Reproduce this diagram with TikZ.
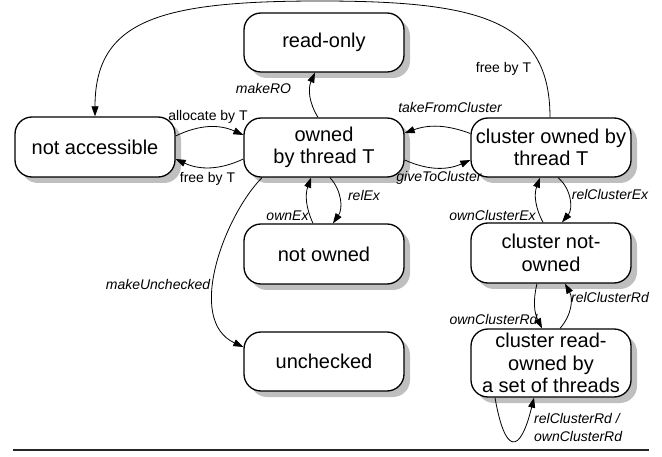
\documentclass[tikz,border=0pt]{standalone}
\usepackage{fontspec}
\setmainfont{Liberation Sans}
\usetikzlibrary{shadows,arrows.meta}
\begin{document}
\begin{tikzpicture}[x=1pt,y=-1pt,
  state/.style={draw, line width=1.3pt, rounded corners=17pt, fill=white, inner sep=0pt, align=center,
    font=\fontsize{20pt}{22.5pt}\selectfont, minimum width=160pt,
    drop shadow={shadow xshift=6pt, shadow yshift=-6pt, fill=black!25, opacity=1}},
  arr/.style={line width=0.8pt, -{Triangle[length=10pt,width=7pt]}},
  lab/.style={inner sep=0pt, font=\fontsize{14pt}{17pt}\selectfont},
  ilab/.style={inner sep=0pt, font=\fontsize{14pt}{17pt}\selectfont\itshape}]
\useasboundingbox (0,0) rectangle (662,457);

% states
\node[state, minimum height=60pt] (na) at (95,147) {not accessible};
\node[state, minimum height=59pt] (ro) at (324,42.5) {read-only};
\node[state, minimum height=59pt] (ow) at (324,147.5) {owned\\by thread T};
\node[state, minimum height=59pt] (co) at (551,147.5) {cluster owned by\\thread T};
\node[state, minimum height=60pt] (no) at (324,254) {not owned};
\node[state, minimum height=60pt] (cn) at (551,253) {cluster not-\\owned};
\node[state, minimum height=59pt] (un) at (324,361.5) {unchecked};
\node[state, minimum height=68pt] (cr) at (551,363) {cluster read-\\owned by\\a set of threads};

% transitions
\draw[arr] ([xshift=-1pt]co.north) .. controls (550,20) and (480,1) .. (320,1)
           .. controls (160,1) and (95,20) .. (na.north);
\draw[arr] ([yshift=11pt]na.east) to[bend left=25] ([yshift=12.5pt]ow.west);
\draw[arr] ([yshift=-11.5pt]ow.west) to[bend left=25] ([yshift=-12pt]na.east);
\draw[arr] ([xshift=-6pt]ow.north) to[bend left=28] ([xshift=-9pt]ro.south);
\draw[arr] ([yshift=14pt]co.west) to[bend right=20] ([yshift=14.5pt]ow.east);
\draw[arr] ([yshift=-12.5pt]ow.east) to[bend right=24] ([yshift=-12.5pt]co.west);
\draw[arr] ([xshift=6pt]ow.south) to[bend left=38] ([xshift=9pt]no.north);
\draw[arr] ([xshift=-11pt]no.north) to[bend left=22] ([xshift=-13pt]ow.south);
\draw[arr] ([xshift=-62pt]ow.south) .. controls (225,215) and (185,320) .. ([yshift=14.5pt]un.west);
\draw[arr] ([xshift=7pt]co.south) to[bend left=45] ([xshift=11pt]cn.north);
\draw[arr] ([xshift=-8pt]cn.north) to[bend left=24] ([xshift=-11pt]co.south);
\draw[arr] ([xshift=-14pt]cn.south) to[bend right=20] ([xshift=-9pt]cr.north);
\draw[arr] ([xshift=9pt]cr.north) to[bend right=35] ([xshift=14pt]cn.south);
\draw[arr] ([xshift=-56pt]cr.south) .. controls (505,455) and (520,455) .. ([xshift=-17pt]cr.south);

% labels
\node[lab, anchor=base] (lalloc) at (208,121) {allocate by T};
\node[lab, anchor=base] (lfree1) at (207.5,183) {free by T};
\node[lab, anchor=base] (lfree2) at (503.5,72.5) {free by T};
\node[ilab, anchor=base] (lro) at (263.5,94) {makeRO};
\node[ilab, anchor=base] (ltake) at (450,113) {takeFromCluster};
\node[ilab, anchor=base] (lgive) at (439,182) {giveToCluster};
\node[ilab, anchor=base] (lrelex) at (364,201) {relEx};
\node[ilab, anchor=base] (lownex) at (287.5,221) {ownEx};
\node[ilab, anchor=base] (lunch) at (158,290) {makeUnchecked};
\node[ilab, anchor=base] (lrce) at (610,200) {relClusterEx};
\node[ilab, anchor=base] (loce) at (492.5,221) {ownClusterEx};
\node[ilab, anchor=base] (lrcr) at (610,303) {relClusterRd};
\node[ilab, anchor=base] (locr) at (493.5,325) {ownClusterRd};
\node[ilab, anchor=base west] (lloop1) at (534,423) {relClusterRd /};
\node[ilab, anchor=base west] (lloop2) at (534,441) {ownClusterRd};

% rule
\coordinate (r1) at (13,450);
\coordinate (r2) at (649,450);
\draw[line width=1.2pt, black!85] (r1) -- (r2);
\end{tikzpicture}
\end{document}
